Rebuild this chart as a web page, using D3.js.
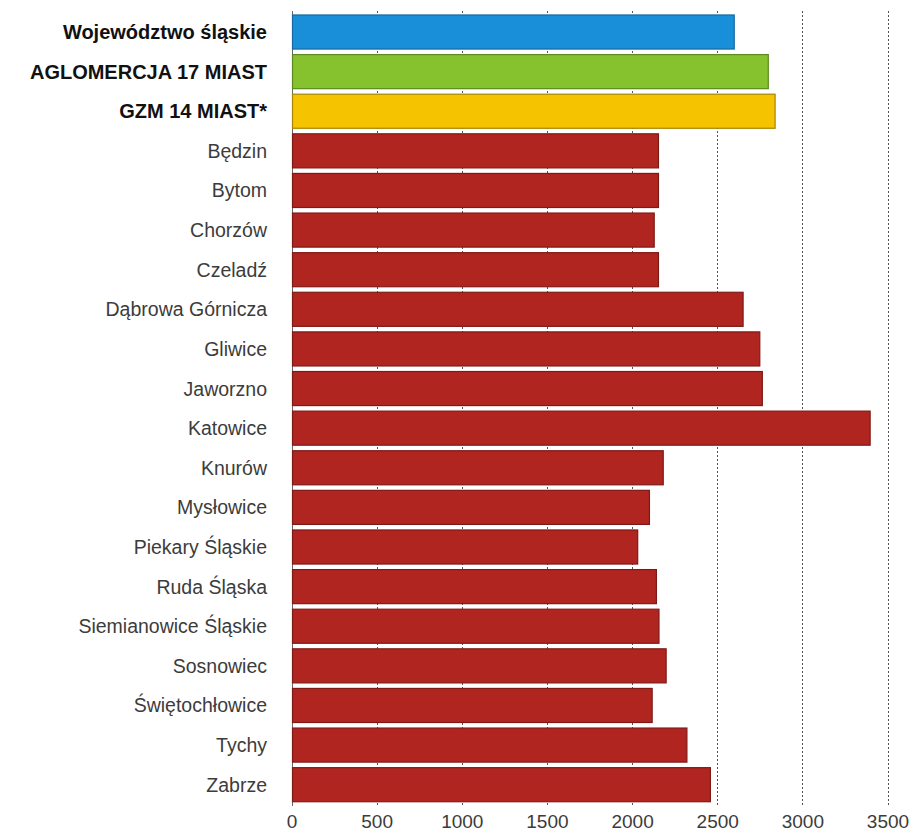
<!DOCTYPE html>
<html>
<head>
<meta charset="utf-8">
<script src="https://cdn.jsdelivr.net/npm/d3@7/dist/d3.min.js"></script>
<style>
  body { margin: 0; background: #fff; }
  svg { display: block; }
</style>
</head>
<body>
<svg id="chart" width="917" height="835"></svg>
<script>
const categories = [
  "Województwo śląskie",
  "AGLOMERCJA 17 MIAST",
  "GZM 14 MIAST*",
  "Będzin",
  "Bytom",
  "Chorzów",
  "Czeladź",
  "Dąbrowa Górnicza",
  "Gliwice",
  "Jaworzno",
  "Katowice",
  "Knurów",
  "Mysłowice",
  "Piekary Śląskie",
  "Ruda Śląska",
  "Siemianowice Śląskie",
  "Sosnowiec",
  "Świętochłowice",
  "Tychy",
  "Zabrze"
];
const values = [2600, 2800, 2840, 2155, 2155, 2130, 2155, 2652, 2750, 2765, 3398, 2183, 2102, 2033, 2143, 2158, 2200, 2118, 2322, 2460];
const groups = ["region", "aglo", "gzm", "city", "city", "city", "city", "city", "city", "city", "city", "city", "city", "city", "city", "city", "city", "city", "city", "city"];
const tickValues = [0, 500, 1000, 1500, 2000, 2500, 3000, 3500];

const fills = { region: "#1a8fd9", aglo: "#85c22e", gzm: "#f6c300", city: "#b02520" };
const strokes = { region: "#17689f", aglo: "#5d8a1f", gzm: "#a88500", city: "#7e1a16" };

const svg = d3.select("#chart");
const x = d3.scaleLinear().domain([0, 3500]).range([291.5, 887.5]);
const y = d3.scaleBand().domain(categories).range([12.2, 804.5]).paddingInner(0.14).paddingOuter(0.07);

// gridlines
svg.append("g")
  .selectAll("line")
  .data(tickValues.slice(1))
  .join("line")
  .attr("x1", d => Math.round(x(d)) + 0.5)
  .attr("x2", d => Math.round(x(d)) + 0.5)
  .attr("y1", 11)
  .attr("y2", 806)
  .attr("stroke", "#555")
  .attr("stroke-width", 1)
  .attr("stroke-dasharray", "2,2");

// axis line
svg.append("line")
  .attr("x1", Math.round(x(0)) + 0.5)
  .attr("x2", Math.round(x(0)) + 0.5)
  .attr("y1", 11)
  .attr("y2", 806)
  .attr("stroke", "#666")
  .attr("stroke-width", 1);

// bars
const data = categories.map((c, i) => ({ c, v: values[i], g: groups[i] }));
svg.append("g")
  .selectAll("rect")
  .data(data)
  .join("rect")
  .attr("x", x(0) + 1)
  .attr("y", d => y(d.c))
  .attr("width", d => x(d.v) - x(0) - 1)
  .attr("height", y.bandwidth())
  .attr("fill", d => fills[d.g])
  .attr("stroke", d => strokes[d.g])
  .attr("stroke-width", 1.2);

// category labels
svg.append("g")
  .selectAll("text")
  .data(data)
  .join("text")
  .attr("x", 267)
  .attr("y", d => y(d.c) + y.bandwidth() / 2)
  .attr("dy", "0.36em")
  .attr("text-anchor", "end")
  .attr("font-family", "'Liberation Sans', Arial, sans-serif")
  .attr("font-size", d => d.g === "city" ? 19.5 : 20)
  .attr("font-weight", d => d.g === "city" ? "normal" : "bold")
  .attr("fill", d => d.g === "city" ? "#3c3c3c" : "#111")
  .text(d => d.c);

// x axis
const xAxis = d3.axisBottom(x).tickValues(tickValues).tickSize(0).tickPadding(0).tickFormat(d3.format("d"));
const gx = svg.append("g").attr("transform", "translate(0,814)").call(xAxis);
gx.select(".domain").remove();
gx.selectAll("text")
  .attr("font-family", "'Liberation Sans', Arial, sans-serif")
  .attr("font-size", 19)
  .attr("fill", "#3c3c3c");
</script>
</body>
</html>
